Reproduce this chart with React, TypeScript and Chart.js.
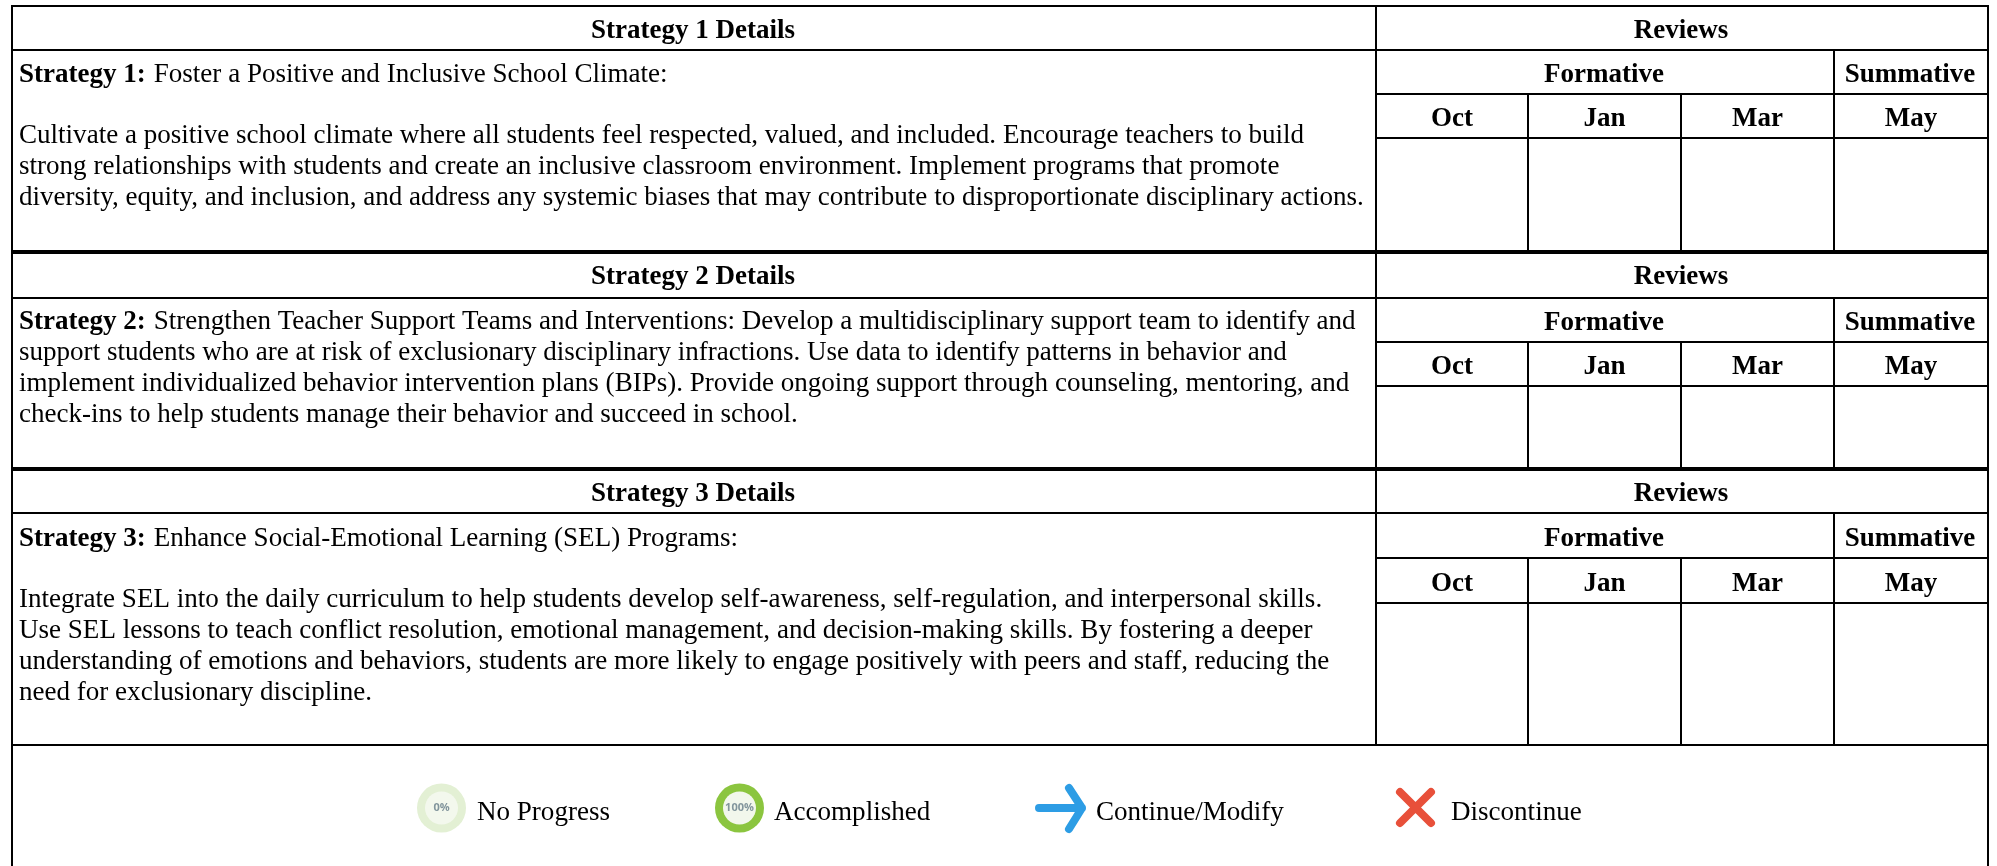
import React, { useEffect, useRef } from "react";
import { Chart, registerables } from "chart.js";

Chart.register(...registerables);

const WIDTH = 1997;
const HEIGHT = 866;

// ---- content ----
const detailHeaders = ["Strategy 1 Details", "Strategy 2 Details", "Strategy 3 Details"];
const reviewHeader = "Reviews";
const groupHeaders = ["Formative", "Summative"];
const months = ["Oct", "Jan", "Mar", "May"];
const strategyLabels = ["Strategy 1:", "Strategy 2:", "Strategy 3:"];
const strategyOneLines = [
  "Foster a Positive and Inclusive School Climate:",
  "",
  "Cultivate a positive school climate where all students feel respected, valued, and included. Encourage teachers to build",
  "strong relationships with students and create an inclusive classroom environment. Implement programs that promote",
  "diversity, equity, and inclusion, and address any systemic biases that may contribute to disproportionate disciplinary actions.",
];
const strategyTwoLines = [
  "Strengthen Teacher Support Teams and Interventions: Develop a multidisciplinary support team to identify and",
  "support students who are at risk of exclusionary disciplinary infractions. Use data to identify patterns in behavior and",
  "implement individualized behavior intervention plans (BIPs). Provide ongoing support through counseling, mentoring, and",
  "check-ins to help students manage their behavior and succeed in school.",
];
const strategyThreeLines = [
  "Enhance Social-Emotional Learning (SEL) Programs:",
  "",
  "Integrate SEL into the daily curriculum to help students develop self-awareness, self-regulation, and interpersonal skills.",
  "Use SEL lessons to teach conflict resolution, emotional management, and decision-making skills. By fostering a deeper",
  "understanding of emotions and behaviors, students are more likely to engage positively with peers and staff, reducing the",
  "need for exclusionary discipline.",
];
const strategyLines = [strategyOneLines, strategyTwoLines, strategyThreeLines];
const legendLabels = ["No Progress", "Accomplished", "Continue/Modify", "Discontinue"];

// ---- table layout, in the coordinate space of the axes ----
const tableLeft = 12;
const tableRight = 1988;
const detailsRight = 1376;
const monthEdges = [1376, 1528, 1681, 1834, 1988];
const sectionTops = [6, 252, 469];
const headerCentres = [28, 274, 491];
const tableBottom = 745;
const sectionRows = [
  [50, 94, 138],
  [298, 342, 386],
  [513, 558, 603],
];
const sectionBottoms = [252, 469, 745];
const lineStep = 31;
const blankLineGap = 30.5;
const firstBaselines = [82, 329, 546];

const FONT = '"Liberation Serif", "Times New Roman", serif';
const TEXT_SIZE = 27.05;
const BOLD_SIZE = 27;

type Seg = [number, number, number, number, number];

function rules(): Seg[] {
  const out: Seg[] = [];
  out.push([tableLeft, 6, tableRight, 6, 2]);
  out.push([tableLeft, 5, tableLeft, HEIGHT, 2]);
  out.push([tableRight, 5, tableRight, HEIGHT, 2]);
  sectionTops.forEach((top, s) => {
    const [r1, r2, r3] = sectionRows[s];
    const bottom = sectionBottoms[s];
    if (s > 0) out.push([tableLeft, top, tableRight, top, 4]);
    out.push([tableLeft, r1, tableRight, r1, 2]);
    out.push([detailsRight, r2, tableRight, r2, 2]);
    out.push([detailsRight, r3, tableRight, r3, 2]);
    out.push([detailsRight, top, detailsRight, bottom, 2]);
    out.push([monthEdges[3], r1, monthEdges[3], bottom, 2]);
    out.push([monthEdges[1], r2, monthEdges[1], bottom, 2]);
    out.push([monthEdges[2], r2, monthEdges[2], bottom, 2]);
  });
  out.push([tableLeft, tableBottom, tableRight, tableBottom, 2]);
  return out;
}

const tablePlugin = {
  id: "tablePlugin",
  afterDatasetsDraw(chart: any) {
    const { ctx, scales } = chart;
    const X = (v: number) => scales.x.getPixelForValue(v);
    const Y = (v: number) => scales.y.getPixelForValue(v);
    ctx.save();
    ctx.fillStyle = "#000";
    ctx.textBaseline = "alphabetic";
    const bold = `bold ${BOLD_SIZE}px ${FONT}`;
    const regular = `${TEXT_SIZE}px ${FONT}`;

    sectionTops.forEach((_top, s) => {
      const [r1, r2, r3] = sectionRows[s];
      const baseOffset = 10;
      const nudge = -1;
      ctx.font = bold;
      ctx.textAlign = "center";
      const mid = (a: number, b: number) => (a + b) / 2;
      ctx.fillText(detailHeaders[s], X(mid(tableLeft, detailsRight) + nudge), Y(headerCentres[s] + baseOffset));
      ctx.fillText(reviewHeader, X(mid(detailsRight, tableRight) + nudge), Y(headerCentres[s] + baseOffset));
      ctx.fillText(groupHeaders[0], X(mid(detailsRight, monthEdges[3]) + nudge), Y(mid(r1, r2) + baseOffset));
      ctx.fillText(groupHeaders[1], X(mid(monthEdges[3], tableRight) + nudge), Y(mid(r1, r2) + baseOffset));
      months.forEach((m, i) => {
        ctx.fillText(m, X(mid(monthEdges[i], monthEdges[i + 1])), Y(mid(r2, r3) + baseOffset));
      });

      ctx.textAlign = "left";
      const base = firstBaselines[s];
      ctx.font = bold;
      ctx.fillText(strategyLabels[s], X(19), Y(base));
      const labelWidth = ctx.measureText(strategyLabels[s] + " ").width + 1.3;
      ctx.font = regular;
      let y = base;
      strategyLines[s].forEach((line, i) => {
        if (i > 0) y += line && strategyLines[s][i - 1] ? lineStep : blankLineGap;
        const x = i === 0 ? 19 + labelWidth : 19;
        if (line) ctx.fillText(line, X(x), Y(y));
      });
    });

    // legend
    const iconY = 808;
    const ring = (cx: number, outer: string, inner: string, label: string, size: number) => {
      ctx.beginPath();
      ctx.arc(X(cx), Y(iconY), 24.5, 0, Math.PI * 2);
      ctx.fillStyle = outer;
      ctx.fill();
      ctx.beginPath();
      ctx.arc(X(cx), Y(iconY), 16.5, 0, Math.PI * 2);
      ctx.fillStyle = inner;
      ctx.fill();
      ctx.fillStyle = "#82959c";
      ctx.font = `bold ${size}px "Open Sans", sans-serif`;
      ctx.textAlign = "center";
      ctx.textBaseline = "middle";
      ctx.fillText(label, X(cx), Y(iconY));
      ctx.textBaseline = "alphabetic";
    };
    ring(441.5, "#e3f0d4", "#f3f8ed", "0%", 11);
    ring(739.5, "#8bc53f", "#f2f7ec", "100%", 11);

    ctx.lineCap = "round";
    ctx.lineJoin = "round";
    ctx.strokeStyle = "#2d9de5";
    ctx.lineWidth = 8;
    ctx.beginPath();
    ctx.moveTo(X(1039), Y(808));
    ctx.lineTo(X(1082), Y(808));
    ctx.moveTo(X(1069), Y(788));
    ctx.lineTo(X(1082), Y(808));
    ctx.lineTo(X(1069), Y(829));
    ctx.stroke();

    ctx.strokeStyle = "#e8503a";
    ctx.beginPath();
    ctx.moveTo(X(1400), Y(792));
    ctx.lineTo(X(1431), Y(823));
    ctx.moveTo(X(1431), Y(792));
    ctx.lineTo(X(1400), Y(823));
    ctx.stroke();

    ctx.fillStyle = "#000";
    ctx.font = regular;
    ctx.textAlign = "left";
    [477, 774, 1096, 1451].forEach((x, i) => ctx.fillText(legendLabels[i], X(x), Y(820)));
    ctx.restore();
  },
};

export default function App() {
  const ref = useRef<HTMLCanvasElement | null>(null);
  useEffect(() => {
    document.body.style.margin = "0";
    const datasets = rules().map(([x1, y1, x2, y2, w]) => ({
      data: [
        { x: x1, y: y1 },
        { x: x2, y: y2 },
      ],
      borderColor: "#000",
      borderWidth: w,
      pointRadius: 0,
      showLine: true,
      fill: false,
      tension: 0,
      clip: false as const,
    }));
    const chart = new Chart(ref.current!, {
      type: "scatter",
      data: { datasets },
      options: {
        animation: false,
        responsive: false,
        maintainAspectRatio: false,
        layout: { padding: 0 },
        plugins: { legend: { display: false }, tooltip: { enabled: false }, title: { display: false } },
        scales: {
          x: { type: "linear", min: 0, max: WIDTH, display: false },
          y: { type: "linear", min: 0, max: HEIGHT, reverse: true, display: false },
        },
      },
      plugins: [tablePlugin],
    });
    return () => chart.destroy();
  }, []);
  return (
    <div style={{ width: WIDTH, height: HEIGHT, background: "#fff" }}>
      <canvas ref={ref} width={WIDTH} height={HEIGHT} style={{ display: "block" }} />
    </div>
  );
}
